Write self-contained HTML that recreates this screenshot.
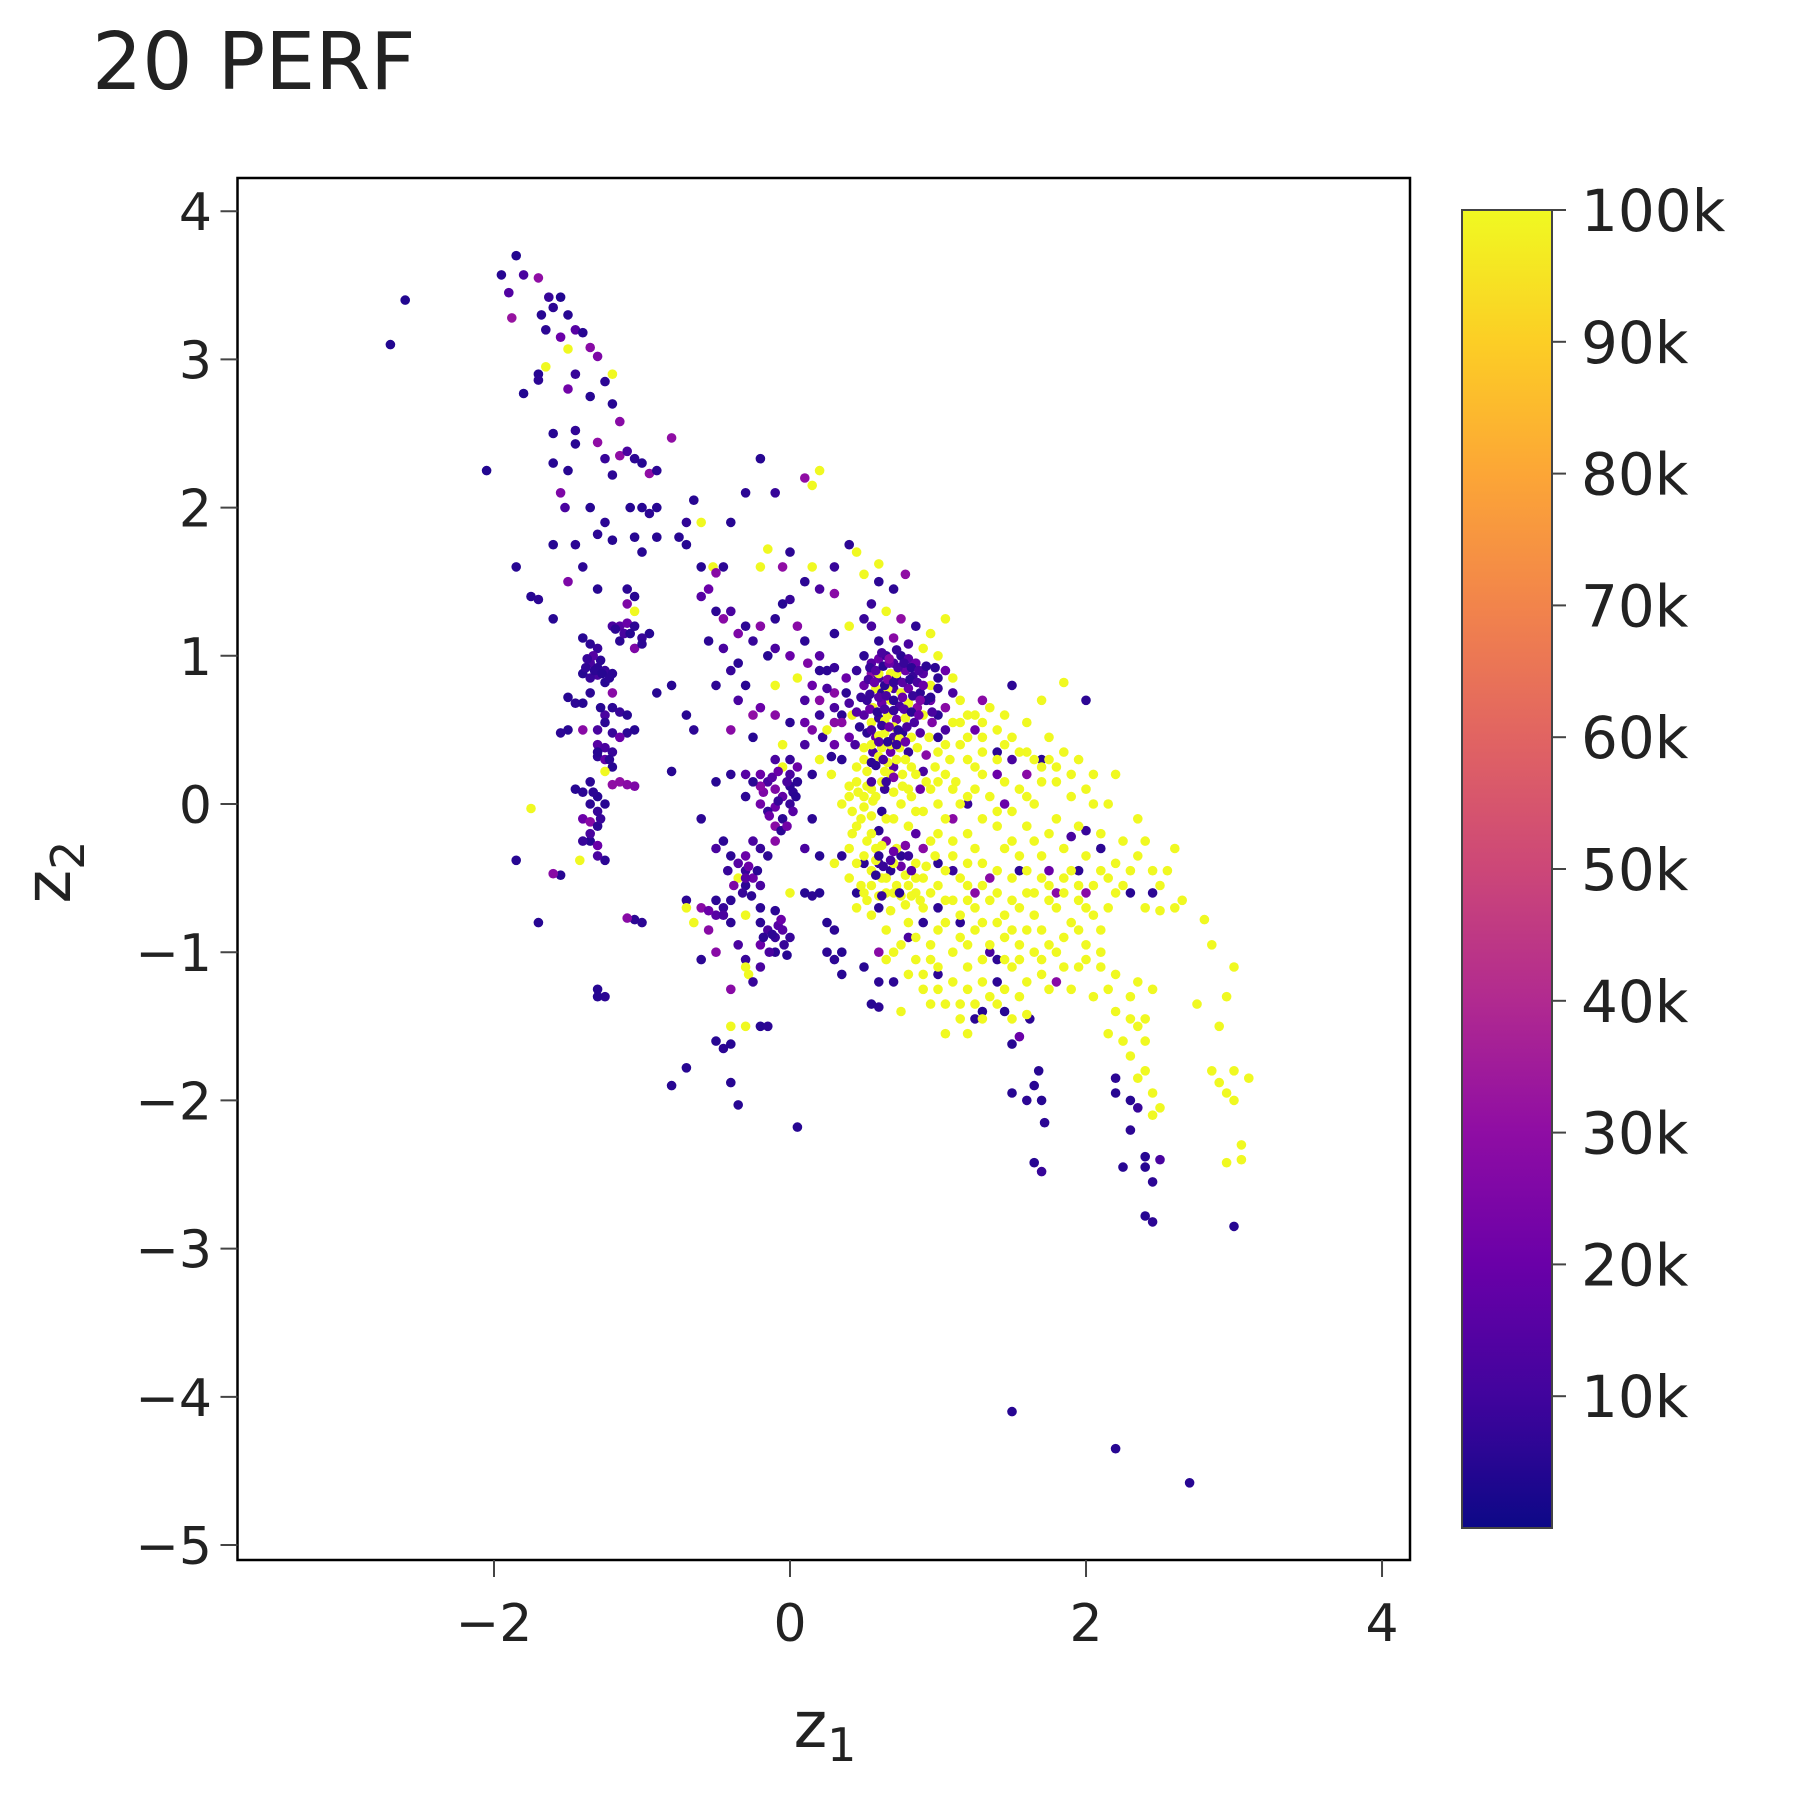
<!DOCTYPE html>
<html><head><meta charset="utf-8">
<style>
html,body{margin:0;padding:0;background:#fff;}
svg{display:block;font-family:"DejaVu Sans","Liberation Sans",sans-serif;}
</style></head>
<body>
<svg id="chart" width="1800" height="1800" viewBox="0 0 1800 1800" xmlns="http://www.w3.org/2000/svg">
<text x="92" y="89" font-size="79" fill="#222">20 PERF</text>
<g id="points"></g>
<rect x="237.5" y="178" width="1172.5" height="1382" fill="none" stroke="#000" stroke-width="2.5"/>
<g id="axes"></g>
<defs><linearGradient id="cbgrad" x1="0" y1="1" x2="0" y2="0"></linearGradient></defs>
<rect x="1462" y="210" width="90" height="1318" fill="url(#cbgrad)" stroke="#444" stroke-width="2"/>
<g id="cbaxis"></g>
<text x="825" y="1747" font-size="64" fill="#222" text-anchor="middle">z<tspan font-size="46" dy="14">1</tspan></text>
<text transform="translate(70,872) rotate(-90)" font-size="64" fill="#222" text-anchor="middle">z<tspan font-size="46" dy="14">2</tspan></text>
</svg>
<script>
const xTicks=[-2,0,2,4];
const yTicks=[4,3,2,1,0,-1,-2,-3,-4,-5];
const cbTicks=[10,20,30,40,50,60,70,80,90,100];
const cbMin=0, cbMax=100;
// [z1, z2, perf (k)]
const armPts=[[-2.7,3.1,4],[-2.6,3.4,4],[-1.85,3.7,4],[-1.95,3.57,5],[-1.8,3.57,12],[-1.9,3.45,14],[-1.7,3.55,30],[-1.88,3.28,32],[-1.68,3.3,5],[-1.63,3.42,8],[-1.6,3.35,6],[-1.55,3.42,4],[-1.65,3.2,6],[-1.5,3.3,5],[-1.45,3.2,15],[-1.55,3.15,20],[-1.4,3.18,5],[-1.35,3.08,28],[-1.3,3.02,25],[-1.65,2.95,100],[-1.5,3.07,100],[-1.2,2.9,100],[-1.7,2.9,5],[-1.7,2.86,6],[-1.5,2.8,22],[-1.45,2.9,8],[-1.35,2.75,5],[-1.25,2.85,6],[-1.8,2.77,4],[-1.2,2.7,5],[-1.15,2.58,28],[-1.6,2.5,5],[-1.45,2.52,7],[-1.45,2.43,5],[-1.3,2.44,30],[-1.15,2.35,30],[-1.1,2.38,12],[-1.05,2.33,6],[-0.95,2.23,30],[-0.8,2.47,30],[-1.0,2.3,5],[-0.9,2.25,6],[-1.6,2.3,5],[-1.5,2.25,5],[-1.25,2.33,8],[-1.2,2.22,6],[-2.05,2.25,4],[-1.55,2.1,25],[-1.52,2.0,12],[-1.35,2.0,5],[-1.25,1.9,6],[-1.08,2.0,5],[-1.0,2.0,5],[-0.95,1.96,6],[-0.9,2.0,5],[-1.3,1.82,6],[-1.2,1.78,5],[-1.05,1.8,5],[-0.9,1.8,5],[-0.75,1.8,5],[-0.7,1.9,7],[-0.6,1.9,100],[-0.7,1.75,5],[-1.6,1.75,5],[-1.45,1.75,6],[-1.0,1.7,5],[-0.4,1.9,5],[-1.85,1.6,5],[-1.4,1.6,6],[-0.6,1.6,5],[-0.52,1.6,100],[-0.45,1.6,6],[-0.5,1.56,28],[-1.5,1.5,25],[-1.75,1.4,5],[-1.7,1.38,6],[-1.6,1.25,5],[-1.3,1.45,5],[-1.1,1.45,6],[-1.05,1.4,5],[-1.1,1.35,25],[-1.05,1.3,100],[-0.65,2.05,5],[-0.3,2.1,6],[-0.2,2.33,5],[-0.1,2.1,8],[0.15,2.15,100],[0.2,2.25,100],[0.1,2.2,30]];
const colPts=[[-1.4,1.12,5],[-1.35,1.08,6],[-1.3,1.05,8],[-1.35,0.95,12],[-1.3,0.92,6],[-1.25,0.9,8],[-1.4,0.88,5],[-1.3,0.87,12],[-1.2,0.88,6],[-1.35,0.85,8],[-1.25,0.82,5],[-1.28,0.97,6],[-1.33,1.0,15],[-1.38,0.92,7],[-1.2,1.2,12],[-1.15,1.2,15],[-1.1,1.22,20],[-1.05,1.2,6],[-0.95,1.15,5],[-1.0,1.12,8],[-1.15,1.1,6],[-1.12,1.15,12],[-1.05,1.05,25],[-1.0,1.08,6],[-1.5,0.72,5],[-1.45,0.68,6],[-1.4,0.68,5],[-1.2,0.75,28],[-1.2,0.65,6],[-1.15,0.62,8],[-1.1,0.6,5],[-1.25,0.6,12],[-1.05,0.5,5],[-1.1,0.48,6],[-1.2,0.48,8],[-1.3,0.5,12],[-1.4,0.5,28],[-1.5,0.5,5],[-1.55,0.48,6],[-1.3,0.4,15],[-1.25,0.38,12],[-1.2,0.35,8],[-1.3,0.32,6],[-1.25,0.3,18],[-1.2,0.25,5],[-1.15,0.15,30],[-1.1,0.13,28],[-1.05,0.12,25],[-1.2,0.13,30],[-1.35,0.15,6],[-1.3,0.05,5],[-1.35,0.0,6],[-1.3,-0.05,8],[-1.25,0.0,5],[-1.4,0.08,6],[-1.45,0.1,5],[-1.4,-0.1,20],[-1.35,-0.12,28],[-1.3,-0.15,6],[-1.35,-0.25,5],[-1.4,-0.25,8],[-1.3,-0.28,20],[-1.25,-0.38,6],[-1.3,-0.35,12],[-1.42,-0.38,100],[-1.75,-0.03,100],[-1.55,-0.48,5],[-1.6,-0.47,28],[-1.85,-0.38,5],[-1.7,-0.8,5],[-1.05,-0.78,6],[-1.1,-0.77,28],[-1.0,-0.8,6],[-1.3,-1.25,5],[-1.25,-1.3,6],[-1.3,-1.3,5],[-1.25,0.22,100],[-1.35,0.75,6],[-1.28,0.65,5],[-1.15,0.45,20],[-1.32,0.9,6],[-1.27,0.88,5],[-1.37,0.98,8],[-1.22,0.85,6],[-1.3,0.35,5],[-1.22,0.3,6],[-1.35,-0.2,12],[-1.33,0.08,6],[-1.28,-0.1,8],[-1.18,1.18,6],[-1.08,1.15,5],[-1.25,0.55,6]];
const midPts=[[-0.6,1.4,15],[-0.55,1.45,20],[-0.5,1.3,6],[-0.45,1.25,28],[-0.4,1.3,12],[-0.3,1.2,6],[-0.2,1.2,28],[-0.25,1.1,8],[-0.15,1.0,5],[-0.1,1.05,12],[0.0,1.0,20],[0.1,1.1,6],[0.2,1.0,15],[-0.05,1.35,5],[0.0,1.38,8],[0.1,1.5,6],[0.2,1.45,12],[0.3,1.6,8],[0.4,1.75,6],[0.45,1.7,100],[0.3,1.42,28],[0.5,1.25,8],[0.55,1.2,12],[0.4,1.2,100],[0.3,1.15,6],[-0.2,1.6,100],[-0.15,1.72,100],[-0.05,1.6,30],[0.0,1.7,6],[0.15,1.6,100],[0.6,1.5,6],[-0.3,0.8,5],[-0.4,0.9,8],[-0.5,0.8,6],[-0.35,0.7,12],[-0.2,0.65,20],[-0.1,0.6,28],[0.0,0.55,6],[-0.25,0.45,5],[-0.4,0.5,28],[0.1,0.7,12],[0.2,0.6,8],[0.15,0.8,20],[0.25,0.9,6],[0.3,0.75,28],[-0.7,0.6,5],[-0.65,0.5,6],[-0.8,0.8,5],[-0.9,0.75,5],[-0.4,0.2,6],[-0.3,0.2,15],[-0.2,0.2,20],[-0.15,0.15,12],[-0.1,0.1,25],[0.0,0.12,6],[-0.05,0.05,18],[0.0,0.0,8],[-0.1,-0.02,20],[-0.05,-0.1,6],[0.0,0.2,12],[-0.2,0.0,22],[-0.15,-0.05,8],[-0.1,-0.15,28],[0.05,0.15,6],[0.05,0.25,20],[0.0,0.3,8],[-0.3,0.05,6],[-0.5,0.15,5],[-0.8,0.22,5],[-0.6,-0.1,6],[-0.5,-0.3,12],[-0.4,-0.35,6],[-0.35,-0.4,15],[-0.3,-0.45,8],[-0.25,-0.5,20],[-0.3,-0.55,6],[-0.35,-0.5,100],[-0.2,-0.3,8],[-0.25,-0.25,12],[-0.15,-0.35,6],[-0.1,-0.25,28],[-0.4,-0.65,6],[-0.45,-0.7,8],[-0.5,-0.75,15],[-0.6,-0.7,28],[-0.7,-0.65,6],[-0.55,-0.85,28],[-0.4,-0.8,6],[-0.35,-0.95,12],[-0.3,-1.05,8],[-0.2,-0.8,6],[-0.15,-0.85,12],[-0.1,-0.9,8],[-0.2,-0.95,20],[-0.1,-1.0,6],[0.0,-0.9,8],[-0.05,-0.85,15],[-0.3,-1.1,100],[-0.28,-1.15,100],[-0.4,-1.25,28],[-0.5,-1.0,28],[-0.6,-1.05,6],[-0.25,-1.2,8],[-0.2,-1.1,12],[-0.65,-0.8,100],[-0.7,-0.7,100],[-0.3,-0.75,100],[0.0,-0.6,100],[-0.5,-1.6,5],[-0.45,-1.65,6],[-0.4,-1.62,5],[-0.3,-1.5,100],[-0.2,-1.5,5],[-0.15,-1.5,6],[-0.4,-1.5,100],[-0.8,-1.9,5],[-0.7,-1.78,5],[-0.4,-1.88,5],[-0.35,-2.03,5],[0.05,-2.18,5],[-0.2,-0.7,6],[0.1,-0.6,5],[0.15,-0.62,6],[0.2,-0.6,5],[0.25,-0.8,5],[0.3,-0.85,6],[0.35,-1.0,5],[0.3,-1.05,6],[0.35,-1.15,5],[0.25,-1.0,6],[0.5,-1.1,5],[0.6,-1.2,6],[0.55,-1.35,5],[0.6,-1.37,6],[0.45,-0.6,5],[0.35,-0.35,6],[0.2,-0.35,5],[0.3,-0.4,100],[0.5,-0.4,6],[-0.05,0.4,100],[0.1,0.4,12],[0.15,0.2,6],[-0.3,-0.35,20],[-0.25,0.6,30],[-0.35,0.95,6],[0.05,0.85,100],[0.2,0.3,100],[-0.1,0.8,100],[0.15,-0.1,6],[0.1,-0.3,12],[-0.45,-0.25,6],[-0.05,0.25,100]];
const midPts2=[[-0.12,0.18,15],[-0.08,0.22,20],[-0.02,0.15,12],[-0.18,0.08,25],[-0.08,0.02,8],[0.02,0.08,6],[-0.14,-0.08,20],[0.02,-0.05,15],[-0.06,-0.18,6],[-0.2,0.12,28],[-0.02,-0.15,22],[0.04,0.05,5],[-0.25,0.15,6],[-0.1,0.3,12],[-0.3,-0.5,15],[-0.28,-0.42,20],[-0.22,-0.45,6],[-0.32,-0.6,8],[-0.38,-0.55,25],[-0.26,-0.62,6],[-0.2,-0.55,12],[-0.42,-0.45,8],[-0.12,-0.88,6],[-0.08,-0.82,15],[-0.04,-0.95,8],[-0.14,-1.0,12],[-0.18,-0.9,6],[-0.06,-0.78,20],[-0.02,-1.02,5],[-0.1,-0.72,6],[-0.45,-0.75,12],[-0.5,-0.65,6],[-0.55,-0.72,20],[0.2,0.9,6],[0.25,0.78,12],[0.3,0.55,28],[0.1,0.55,20],[0.22,0.45,8],[0.35,0.6,6],[0.12,0.95,25],[0.3,0.92,8],[0.38,0.85,20],[0.4,0.68,12],[0.28,0.32,6],[-0.45,1.05,12],[-0.35,1.15,25],[-0.55,1.1,6],[0.05,1.2,28],[-0.1,1.25,6]];
const corePts=[[0.5,1.0,6],[0.55,0.95,15],[0.6,0.98,20],[0.65,1.0,8],[0.7,0.95,12],[0.75,1.0,6],[0.8,0.98,15],[0.85,0.95,20],[0.55,0.88,28],[0.6,0.85,12],[0.68,0.88,100],[0.72,0.85,6],[0.78,0.9,20],[0.83,0.86,8],[0.9,0.88,15],[0.5,0.8,20],[0.58,0.78,100],[0.62,0.75,6],[0.7,0.78,12],[0.75,0.75,100],[0.8,0.78,20],[0.88,0.75,6],[0.95,0.8,100],[0.52,0.7,8],[0.56,0.65,100],[0.62,0.68,20],[0.68,0.7,100],[0.74,0.66,12],[0.8,0.68,100],[0.86,0.65,28],[0.92,0.7,6],[0.5,0.6,15],[0.55,0.55,100],[0.6,0.58,8],[0.66,0.6,100],[0.72,0.57,20],[0.78,0.58,100],[0.84,0.55,12],[0.9,0.6,100],[0.96,0.55,25],[0.52,0.48,6],[0.58,0.45,20],[0.64,0.48,100],[0.7,0.45,12],[0.76,0.48,6],[0.82,0.45,100],[0.88,0.48,15],[0.94,0.45,100],[1.0,0.45,6],[0.5,0.38,100],[0.56,0.35,12],[0.62,0.38,100],[0.68,0.35,20],[0.74,0.38,100],[0.8,0.35,8],[0.86,0.38,100],[0.92,0.33,28],[1.0,0.35,100],[0.45,0.25,100],[0.52,0.22,100],[0.58,0.26,6],[0.64,0.22,100],[0.7,0.25,15],[0.76,0.2,100],[0.82,0.25,100],[0.9,0.22,12],[0.98,0.25,100],[0.4,0.12,100],[0.46,0.08,100],[0.52,0.12,100],[0.58,0.05,100],[0.64,0.1,8],[0.7,0.08,100],[0.76,0.12,100],[0.82,0.05,100],[0.88,0.1,20],[0.35,0.0,100],[0.42,-0.05,100],[0.5,-0.02,100],[0.56,0.02,100],[0.62,-0.05,6],[0.4,0.45,20],[0.35,0.55,28],[0.3,0.65,12],[0.38,0.75,6],[0.45,0.9,8],[0.42,0.6,100],[0.3,0.4,20],[0.25,0.5,100],[0.2,0.7,28],[0.28,0.2,100],[0.35,0.3,6],[0.15,0.5,25],[0.6,1.1,6],[0.7,1.12,28],[0.8,1.08,12],[0.9,1.05,100],[0.75,1.25,30],[0.85,1.2,6],[0.95,1.15,100],[1.05,1.25,100],[0.65,1.3,100],[0.55,1.35,8],[0.7,1.45,6],[0.78,1.55,30],[0.6,1.62,100],[0.5,1.55,100],[1.0,1.0,100],[1.05,0.9,20],[1.1,0.85,100],[0.98,0.92,6],[1.1,0.75,12],[1.15,0.7,100],[1.05,0.65,28],[1.2,0.6,100],[1.1,0.55,100],[1.25,0.5,20],[1.15,0.4,100],[1.3,0.45,100],[1.05,0.2,100],[1.12,0.15,100],[1.2,0.3,100],[0.95,0.1,100],[1.0,0.0,100],[0.9,-0.05,100],[0.7,-0.1,100],[0.8,-0.15,100],[0.6,-0.18,6],[0.65,-0.25,25],[0.72,-0.3,100],[0.58,-0.3,100],[0.5,-0.35,100],[0.55,-0.45,100],[0.62,-0.5,100],[0.68,-0.45,6],[0.75,-0.42,20],[0.8,-0.35,8],[0.85,-0.4,100],[0.9,-0.3,28],[0.95,-0.25,100],[0.72,-0.55,100],[0.8,-0.55,100],[0.65,-0.6,100],[0.48,-0.55,100],[0.45,-0.7,100],[0.52,-0.65,100],[0.85,-0.6,100],[0.9,-0.5,100],[0.78,-0.68,100],[0.68,-0.72,100],[0.6,-0.7,6],[1.3,-0.4,100],[1.4,-0.45,100],[1.5,-0.5,100],[1.2,-0.55,100],[1.0,-0.55,100],[1.1,-0.65,100],[1.25,-0.7,100],[1.35,-0.65,100],[1.45,-0.75,100],[1.55,-0.7,100],[1.65,-0.6,100],[1.75,-0.55,100],[1.85,-0.5,100],[1.95,-0.55,100],[1.6,-0.45,100],[1.7,-0.35,100],[1.5,-0.25,100],[1.4,-0.15,100],[1.3,-0.1,100],[1.2,-0.2,100],[1.6,-0.15,100],[1.75,-0.2,100],[1.85,-0.3,100],[1.65,0.0,100],[1.55,0.1,100],[1.45,0.15,100],[1.35,0.05,100],[1.25,0.1,100],[1.8,0.15,100],[1.9,0.2,100],[1.7,0.25,100],[1.6,0.35,100],[1.5,0.45,100],[1.6,0.55,100],[1.45,0.6,100],[1.35,0.65,100],[1.75,0.45,100],[1.85,0.35,100],[1.95,0.3,100],[2.05,0.2,100],[1.8,-0.1,100],[2.0,-0.35,100],[2.1,-0.45,100],[2.2,-0.4,100],[2.3,-0.45,100],[2.35,-0.35,100],[2.45,-0.45,100],[2.2,-0.6,100],[2.0,-0.7,100],[2.1,-0.85,100],[1.9,-0.8,100],[1.8,-0.7,100],[2.4,-0.7,100],[2.5,-0.72,100],[2.6,-0.7,100],[2.8,-0.78,100],[2.35,-0.1,100],[2.2,0.2,100],[1.85,0.82,100],[1.7,0.7,100],[1.05,-0.8,100],[1.15,-0.9,100],[1.25,-0.85,100],[1.35,-0.95,100],[1.45,-0.9,100],[1.55,-0.95,100],[0.95,-0.95,100],[0.85,-1.05,100],[1.0,-1.1,100],[1.1,-1.2,100],[1.2,-1.1,100],[1.3,-1.2,100],[1.5,-1.1,100],[1.6,-1.2,100],[1.7,-1.05,100],[1.8,-1.0,100],[0.7,-1.0,100],[0.8,-1.15,100],[0.9,-1.25,100],[1.05,-1.35,100],[1.15,-1.45,100],[1.25,-1.35,100],[1.4,-1.35,100],[1.55,-1.3,100],[1.6,-1.42,100],[1.05,-1.55,100],[0.65,-1.05,100],[0.75,-1.4,100],[2.0,-0.95,100],[2.1,-1.1,100],[2.15,-1.25,100],[2.05,-1.3,100],[2.2,-1.4,100],[2.3,-1.3,100],[2.35,-1.5,100],[2.25,-1.6,100],[2.4,-1.45,100],[2.45,-1.25,100],[2.3,-1.7,100],[2.4,-1.8,100],[2.45,-1.95,100],[2.5,-2.05,100],[2.45,-2.1,100],[2.15,-1.55,100],[1.75,-1.25,100],[2.75,-1.35,100],[2.85,-0.95,100],[2.95,-1.3,100],[3.0,-1.1,100],[2.9,-1.5,100],[2.85,-1.8,100],[2.95,-1.95,100],[2.9,-1.88,100],[3.0,-1.8,100],[3.0,-2.0,100],[3.05,-2.3,100],[3.05,-2.4,100],[2.95,-2.42,100],[3.1,-1.85,100],[2.05,0.0,100],[2.6,-0.3,100],[2.5,-0.55,100],[1.3,0.2,100],[1.4,0.3,100],[0.55,-0.2,100],[0.45,-0.15,100],[0.4,-0.3,100],[1.9,-1.25,100],[1.95,-1.1,100],[1.7,-0.85,100],[1.6,-0.85,100],[0.9,-0.7,100],[1.1,-0.35,100]];
const coreDark2=[[0.54,0.92,8],[0.58,0.9,15],[0.63,0.93,6],[0.67,0.95,20],[0.73,0.92,12],[0.77,0.95,8],[0.82,0.92,6],[0.87,0.9,12],[0.92,0.93,6],[0.53,0.84,12],[0.57,0.82,20],[0.64,0.8,6],[0.66,0.84,25],[0.7,0.82,8],[0.76,0.82,15],[0.81,0.84,6],[0.86,0.82,12],[0.54,0.74,8],[0.6,0.72,15],[0.65,0.73,12],[0.7,0.7,6],[0.76,0.72,20],[0.83,0.73,8],[0.88,0.7,25],[0.54,0.64,20],[0.59,0.62,6],[0.64,0.64,12],[0.7,0.63,8],[0.77,0.64,15],[0.82,0.62,6],[0.87,0.6,20],[0.55,0.5,12],[0.62,0.53,8],[0.67,0.52,20],[0.73,0.5,6],[0.79,0.52,12],[0.6,0.42,15],[0.66,0.42,6],[0.72,0.4,8],[0.78,0.42,20],[0.63,0.3,12],[0.55,0.28,6],[0.7,0.18,25],[0.65,0.15,8],[0.55,0.15,12],[0.6,-0.35,6],[0.68,-0.38,12],[0.63,-0.42,8],[0.7,-0.32,20],[0.58,-0.48,6],[0.78,-0.28,25],[0.62,-0.62,8],[0.74,-0.6,6],[0.82,-0.45,15],[0.67,0.98,28],[0.72,1.04,8],[0.62,1.02,12],[0.9,0.8,20],[0.95,0.72,6],[1.0,0.78,8],[0.96,0.62,12],[0.48,0.72,8],[0.45,0.62,15],[0.47,0.52,6],[0.44,0.4,12]];
const yellow2=[[0.6,0.88,100],[0.72,0.88,100],[0.66,0.78,100],[0.64,0.56,100],[0.7,0.52,100],[0.6,0.46,100],[0.68,0.4,100],[0.74,0.44,100],[0.55,0.4,100],[0.6,0.32,100],[0.66,0.28,100],[0.72,0.3,100],[0.78,0.3,100],[0.5,0.3,100],[0.55,0.1,100],[0.62,0.15,100],[0.68,0.2,100],[0.5,0.05,100],[0.45,0.15,100],[0.4,0.05,100],[0.48,-0.1,100],[0.55,-0.08,100],[0.65,-0.1,100],[0.75,0.0,100],[0.85,-0.05,100],[0.52,-0.25,100],[0.58,-0.38,100],[0.62,-0.28,100],[0.7,-0.4,100],[0.78,-0.48,100],[0.85,-0.5,100],[0.92,-0.42,100],[0.98,-0.35,100],[0.55,-0.55,100],[0.65,-0.5,100],[0.7,-0.6,100],[0.6,-0.62,100],[0.5,-0.6,100],[0.75,-0.62,100],[0.82,-0.62,100],[0.88,-0.65,100],[0.95,-0.6,100],[1.05,-0.45,100],[1.15,-0.5,100],[1.2,-0.4,100],[1.25,-0.3,100],[1.1,-0.25,100],[1.0,-0.2,100],[1.05,-0.1,100],[1.15,0.0,100],[1.1,0.1,100],[1.2,0.05,100],[1.0,0.15,100],[1.08,0.3,100],[1.25,0.25,100],[1.3,0.35,100],[1.2,0.45,100],[1.05,0.4,100],[1.15,0.55,100],[1.25,0.6,100],[1.3,0.55,100],[1.4,0.5,100],[1.45,0.4,100],[1.55,0.35,100],[1.65,0.3,100],[1.75,0.3,100],[1.8,0.25,100],[1.7,0.15,100],[1.6,0.05,100],[1.5,-0.05,100],[1.4,-0.05,100],[1.45,-0.3,100],[1.55,-0.35,100],[1.65,-0.25,100],[1.7,-0.5,100],[1.6,-0.6,100],[1.5,-0.65,100],[1.4,-0.6,100],[1.3,-0.55,100],[1.2,-0.65,100],[1.05,-0.65,100],[1.15,-0.75,100],[1.3,-0.8,100],[1.4,-0.8,100],[1.5,-0.85,100],[1.65,-0.75,100],[1.75,-0.65,100],[1.85,-0.6,100],[1.9,-0.45,100],[1.95,-0.65,100],[2.05,-0.55,100],[2.15,-0.5,100],[2.25,-0.55,100],[2.05,-0.75,100],[2.15,-0.7,100],[1.95,-0.85,100],[1.85,-0.9,100],[1.75,-0.95,100],[1.65,-1.0,100],[1.55,-1.05,100],[1.45,-1.05,100],[1.3,-1.05,100],[1.2,-0.95,100],[1.1,-1.0,100],[0.95,-1.05,100],[0.9,-1.15,100],[1.0,-1.25,100],[1.2,-1.25,100],[1.35,-1.3,100],[1.45,-1.25,100],[1.7,-1.15,100],[1.85,-1.1,100],[2.0,-1.05,100],[2.1,-1.0,100],[2.2,-1.15,100],[2.35,-1.2,100],[2.3,-1.45,100],[2.4,-1.6,100],[2.35,-1.85,100],[0.55,-0.75,100],[0.65,-0.85,100],[0.8,-0.8,100],[0.75,-0.95,100],[0.85,-0.9,100],[1.0,-0.85,100],[0.45,-0.4,100],[0.4,-0.5,100],[0.42,-0.2,100],[1.9,0.05,100],[2.0,0.1,100],[2.15,0.0,100],[1.95,-0.15,100],[2.1,-0.2,100],[2.25,-0.25,100],[2.4,-0.25,100],[2.55,-0.45,100],[2.65,-0.65,100],[0.85,0.2,100],[0.92,0.15,100],[0.8,0.1,100],[1.3,-1.45,100],[1.15,-1.35,100],[0.95,-1.35,100],[1.2,-1.55,100],[1.5,-1.45,100]];
const tailDark=[[1.5,-1.95,5],[1.6,-2.0,6],[1.65,-1.9,5],[1.7,-2.0,5],[1.72,-2.15,6],[1.65,-2.42,5],[1.7,-2.48,8],[1.68,-1.8,5],[1.62,-1.45,6],[1.5,-1.62,5],[1.55,-1.57,20],[1.45,-1.4,5],[1.4,-1.2,6],[1.3,-1.4,5],[1.25,-1.45,6],[2.2,-1.85,6],[2.2,-1.95,5],[2.3,-2.0,5],[2.35,-2.05,8],[2.25,-2.45,5],[2.4,-2.45,5],[2.45,-2.55,6],[2.5,-2.4,12],[2.4,-2.38,5],[2.3,-2.2,6],[2.4,-2.78,5],[2.45,-2.82,6],[3.0,-2.85,5],[1.5,-4.1,5],[2.2,-4.35,5],[2.7,-4.58,5],[1.8,-1.2,28],[2.1,-0.3,6],[2.3,-0.6,5],[2.45,-0.6,6],[1.9,-0.22,12],[2.0,-0.18,8],[1.8,-0.6,28],[1.5,0.8,6],[1.7,0.3,6],[1.5,0.3,12],[1.4,0.2,20],[1.2,0.0,8],[1.1,-0.1,28],[1.0,0.6,6],[1.05,0.5,12],[0.95,0.7,20],[1.0,0.85,6],[0.9,0.9,8],[1.3,0.7,28],[1.4,0.35,6],[2.0,0.7,6],[1.0,-0.4,6],[1.1,-0.45,8],[1.0,-0.7,6],[0.9,-0.8,6],[0.8,-0.9,12],[0.6,-1.0,28],[0.7,-1.2,6],[1.4,-1.05,6],[1.35,-1.0,12],[1.0,-1.15,6],[1.35,-0.5,28],[1.55,-0.45,6],[1.75,-0.45,20],[1.95,-0.45,6],[1.25,-0.6,28],[1.15,-0.8,6],[1.45,0.0,20],[1.6,0.2,28],[2.0,-0.6,28],[0.75,-0.35,6],[0.6,-0.4,8],[0.85,-0.2,15]];

const X0=237.5,X1=1410,Y0=178,Y1=1560;
const xDom=[-3.733,4.189], yDom=[-5.101,4.224];
function xs(v){return X0+(v-xDom[0])/(xDom[1]-xDom[0])*(X1-X0);}
function ys(v){return Y1-(v-yDom[0])/(yDom[1]-yDom[0])*(Y1-Y0);}
const CB0=1528,CB1=210;
function cs(v){return CB0-(v-cbMin)/(cbMax-cbMin)*(CB0-CB1);}
const plasma=["#0d0887","#41049d","#6a00a8","#8f0da4","#b12a90","#cc4778","#e16462","#f2844b","#fca636","#fcce25","#f0f921"];
function hex(h){return [1,3,5].map(i=>parseInt(h.substr(i,2),16));}
function cmap(v){let t=Math.max(0,Math.min(1,(v-cbMin)/(cbMax-cbMin)))*(plasma.length-1);let i=Math.min(plasma.length-2,Math.floor(t));let f=t-i;let a=hex(plasma[i]),b=hex(plasma[i+1]);return "rgb("+a.map((c,k)=>Math.round(c+(b[k]-c)*f)).join(",")+")";}
const NS="http://www.w3.org/2000/svg";
const grad=document.getElementById('cbgrad');
plasma.forEach((c,i)=>{const s=document.createElementNS(NS,'stop');s.setAttribute('offset',(i/(plasma.length-1)*100)+'%');s.setAttribute('stop-color',c);grad.appendChild(s);});
const pg=document.getElementById('points');
function drawSet(arr,name){
  arr.forEach(p=>{
    const c=document.createElementNS(NS,'circle');
    
    
    c.setAttribute('cx',xs(p[0]).toFixed(1));
    c.setAttribute('cy',ys(p[1]).toFixed(1));
    c.setAttribute('r','4.8');
    c.setAttribute('fill',cmap(p[2]));
    pg.appendChild(c);
  });
}
drawSet(armPts,'scatter-point');
drawSet(colPts,'scatter-point');
drawSet(midPts,'scatter-point');
drawSet(midPts2,'scatter-point');
drawSet(tailDark,'scatter-point');
drawSet(corePts,'scatter-point');
drawSet(yellow2,'scatter-point');
drawSet(coreDark2,'scatter-point');
const ax=document.getElementById('axes');
function fmt(v){return v<0?"\u2212"+(-v):String(v);}
xTicks.forEach(v=>{
  const l=document.createElementNS(NS,'line');
  
  
  const x=xs(v);
  l.setAttribute('x1',x);l.setAttribute('x2',x);l.setAttribute('y1',Y1);l.setAttribute('y2',Y1+17);l.setAttribute('stroke','#444');l.setAttribute('stroke-width','2');
  ax.appendChild(l);
  const t=document.createElementNS(NS,'text');
  
  
  t.setAttribute('x',x);t.setAttribute('y',1641);t.setAttribute('font-size','52');t.setAttribute('fill','#222');t.setAttribute('text-anchor','middle');
  t.textContent=fmt(v);ax.appendChild(t);
});
yTicks.forEach(v=>{
  const l=document.createElementNS(NS,'line');
  
  
  const y=ys(v);
  l.setAttribute('x1',X0-17);l.setAttribute('x2',X0);l.setAttribute('y1',y);l.setAttribute('y2',y);l.setAttribute('stroke','#444');l.setAttribute('stroke-width','2');
  ax.appendChild(l);
  const t=document.createElementNS(NS,'text');
  
  
  t.setAttribute('x',212);t.setAttribute('y',y+19);t.setAttribute('font-size','52');t.setAttribute('fill','#222');t.setAttribute('text-anchor','end');
  t.textContent=fmt(v);ax.appendChild(t);
});
const cba=document.getElementById('cbaxis');
cbTicks.forEach(v=>{
  const y=cs(v);
  const l=document.createElementNS(NS,'line');
  
  
  l.setAttribute('x1',1552);l.setAttribute('x2',1566);l.setAttribute('y1',y);l.setAttribute('y2',y);l.setAttribute('stroke','#444');l.setAttribute('stroke-width','2');
  cba.appendChild(l);
  const t=document.createElementNS(NS,'text');
  
  
  t.setAttribute('x',1581);t.setAttribute('y',y+21);t.setAttribute('font-size','58');t.setAttribute('fill','#222');
  t.textContent=v+"k";cba.appendChild(t);
});
</script>
</body></html>
